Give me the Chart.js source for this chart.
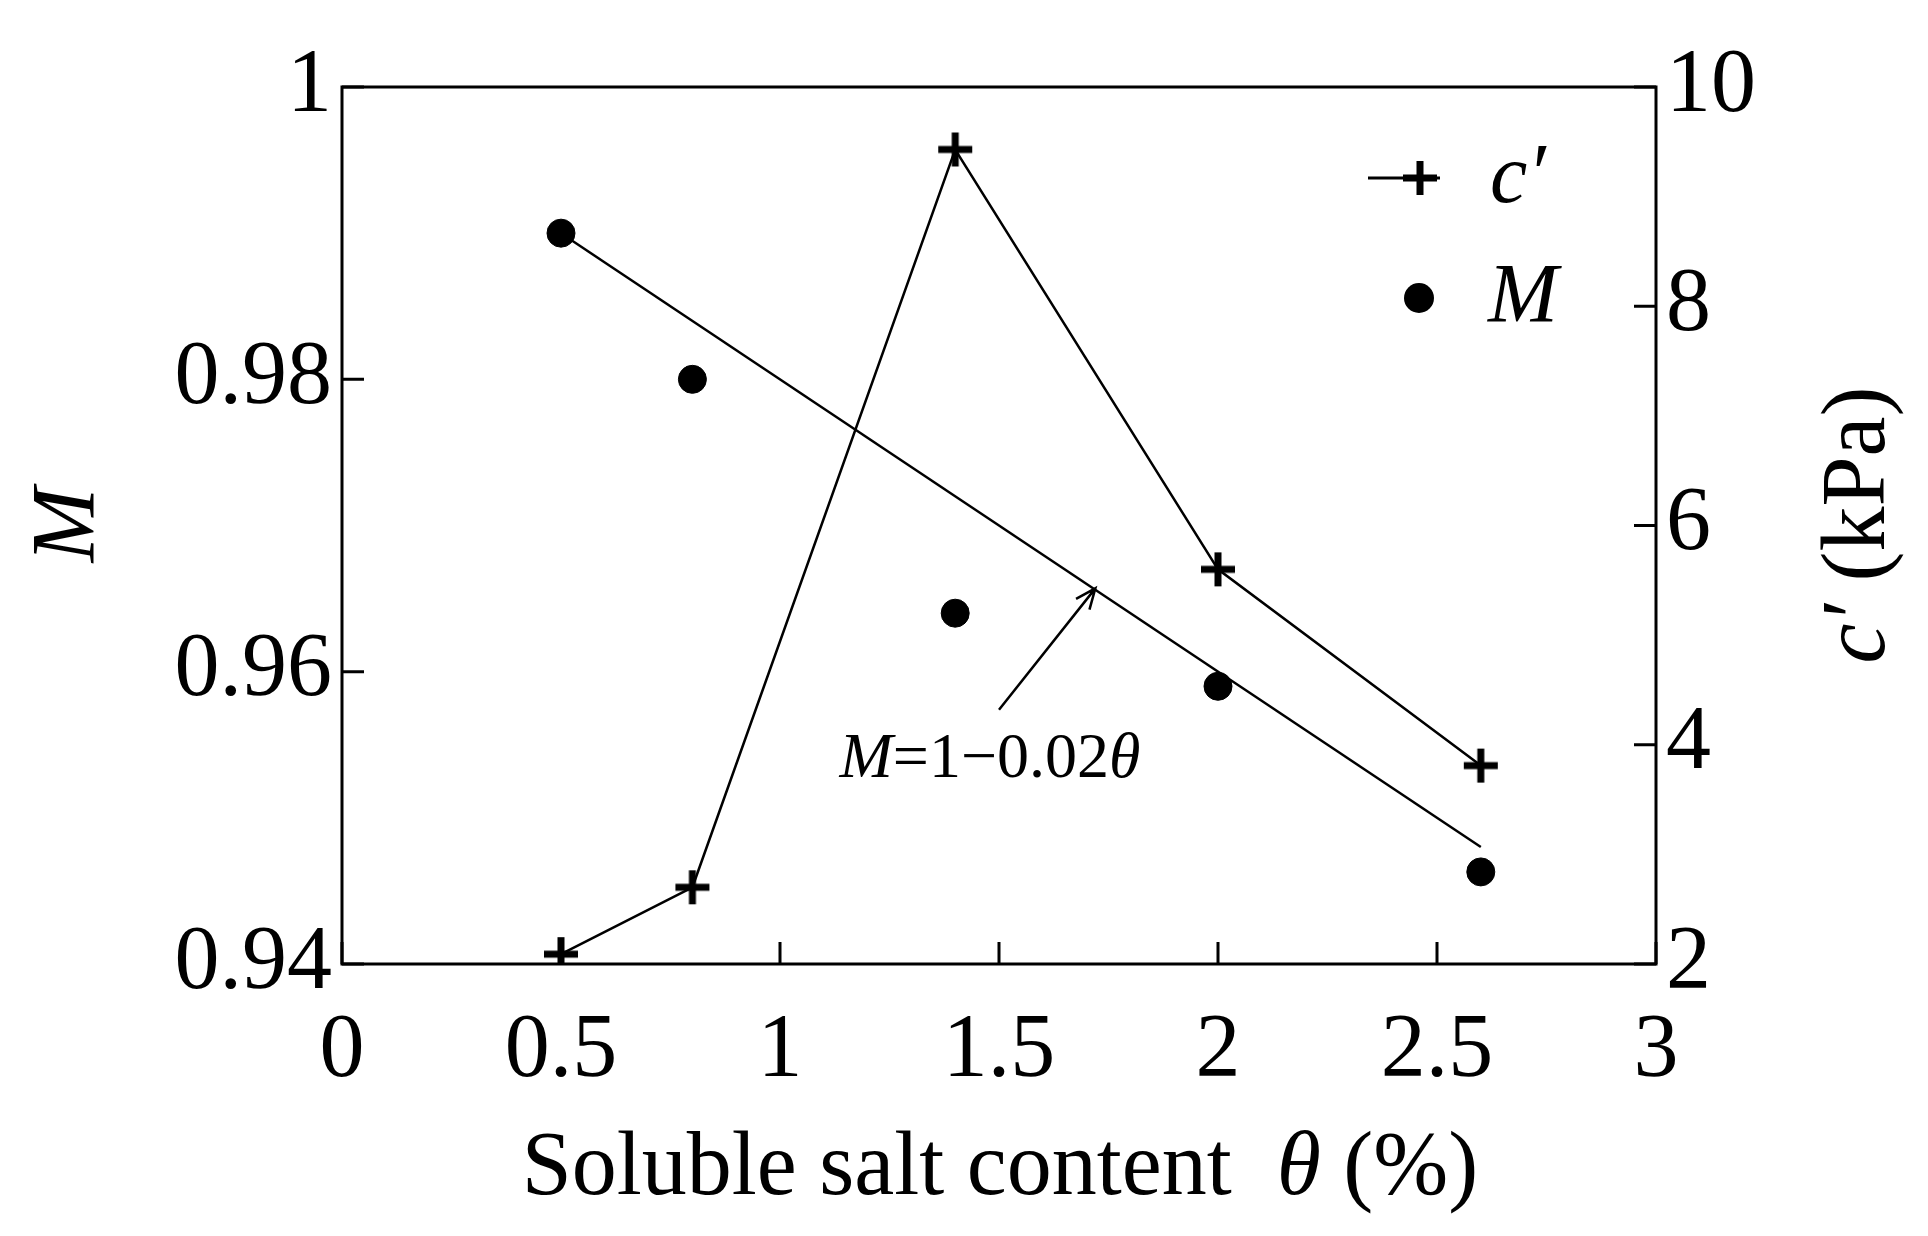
<!DOCTYPE html>
<html><head><meta charset="utf-8">
<script src="https://cdn.jsdelivr.net/npm/chart.js@4/dist/chart.umd.min.js"></script>
<style>body{margin:0;background:#fff}#wrap{width:1928px;height:1236px}</style>
</head><body><div id="wrap"><canvas id="c"></canvas></div>
<script>
var theta = [0.5, 0.8, 1.4, 2.0, 2.6];
var mValues = [0.990, 0.980, 0.964, 0.959, 0.9463];
var cValues = [2.09, 2.7, 9.43, 5.6, 3.81];
var fitX = [0.5, 2.6];
var fitM = [0.990, 0.948];
var xTicks = [0, 0.5, 1, 1.5, 2, 2.5, 3];
var mTicks = [0.94, 0.96, 0.98, 1];
var cTicks = [2, 4, 6, 8, 10];

var FONT = '"Liberation Serif", "Times New Roman", serif';

function crossPoint(ctx, x, y, r){
  ctx.save(); ctx.lineWidth = 7; ctx.strokeStyle = '#000';
  ctx.beginPath(); ctx.moveTo(x - r, y); ctx.lineTo(x + r, y);
  ctx.moveTo(x, y - r); ctx.lineTo(x, y + r); ctx.stroke(); ctx.restore();
}

// draw a run of [text, italic] pieces left to right, centred on x
function runText(ctx, parts, x, y, size){
  var w = 0;
  parts.forEach(function(p){ ctx.font = (p[1] ? 'italic ' : '') + size + 'px ' + FONT; w += ctx.measureText(p[0]).width; });
  var cx = x - w / 2;
  ctx.textAlign = 'left';
  parts.forEach(function(p){ ctx.font = (p[1] ? 'italic ' : '') + size + 'px ' + FONT; ctx.fillText(p[0], cx, y); cx += ctx.measureText(p[0]).width; });
}

var extras = {
  id: 'extras',
  afterDraw: function(chart){
    var ctx = chart.ctx, xs = chart.scales.x, ym = chart.scales.yM, yc = chart.scales.yC;
    var a = chart.chartArea;
    ctx.save();
    ctx.strokeStyle = '#000'; ctx.lineWidth = 3;
    ctx.strokeRect(a.left, a.top, a.right - a.left, a.bottom - a.top);
    ctx.beginPath();
    xTicks.forEach(function(v){ var p = xs.getPixelForValue(v); ctx.moveTo(p, a.bottom); ctx.lineTo(p, a.bottom - 22); });
    mTicks.forEach(function(v){ var p = ym.getPixelForValue(v); ctx.moveTo(a.left, p); ctx.lineTo(a.left + 22, p); });
    cTicks.forEach(function(v){ var p = yc.getPixelForValue(v); ctx.moveTo(a.right, p); ctx.lineTo(a.right - 22, p); });
    ctx.stroke();
    ctx.fillStyle = '#000'; ctx.textBaseline = 'middle';
    runText(ctx, [['Soluble salt content  ', false], ['θ', true], [' (%)', false]], 1000, 1170, 90);
    ctx.save(); ctx.translate(70, 525); ctx.rotate(-Math.PI / 2);
    runText(ctx, [['M', true]], 0, 0, 90); ctx.restore();
    ctx.save(); ctx.translate(1860, 525); ctx.rotate(-Math.PI / 2);
    runText(ctx, [['c′', true], [' (kPa)', false]], 0, 0, 90); ctx.restore();
    // annotation
    var ax0 = xs.getPixelForValue(1.5), ay0 = ym.getPixelForValue(0.9574);
    var ax1 = xs.getPixelForValue(1.72), ay1 = ym.getPixelForValue(0.9657);
    ctx.lineWidth = 2.5; ctx.beginPath(); ctx.moveTo(ax0, ay0); ctx.lineTo(ax1, ay1);
    var ang = Math.atan2(ay1 - ay0, ax1 - ax0);
    ctx.moveTo(ax1 - 22 * Math.cos(ang - 0.4), ay1 - 22 * Math.sin(ang - 0.4)); ctx.lineTo(ax1, ay1);
    ctx.lineTo(ax1 - 22 * Math.cos(ang + 0.4), ay1 - 22 * Math.sin(ang + 0.4)); ctx.stroke();
    runText(ctx, [['M', true], ['=1−0.02', false], ['θ', true]], 990, 760, 64);
    // legend
    ctx.lineWidth = 3; ctx.beginPath(); ctx.moveTo(1368, 178); ctx.lineTo(1440, 178); ctx.stroke();
    crossPoint(ctx, 1420, 178, 17);
    ctx.textAlign = 'left';
    ctx.font = 'italic 84px ' + FONT; ctx.fillText('c′', 1490, 180);
    ctx.beginPath(); ctx.arc(1419, 298, 15, 0, 2 * Math.PI); ctx.fill();
    ctx.fillText('M', 1488, 300);
    ctx.restore();
  }
};

var crossStyle = document.createElement('canvas');
crossStyle.width = 44; crossStyle.height = 44;
crossPoint(crossStyle.getContext('2d'), 22, 22, 17);

new Chart(document.getElementById('c'), {
  type: 'scatter',
  data: {
    datasets: [
      { label: 'fit', data: fitX.map(function(x, i){ return {x: x, y: fitM[i]}; }), yAxisID: 'yM',
        showLine: true, borderColor: '#000', borderWidth: 2.5, pointRadius: 0 },
      { label: 'M', data: theta.map(function(x, i){ return {x: x, y: mValues[i]}; }), yAxisID: 'yM',
        pointRadius: 14, pointBackgroundColor: '#000', pointBorderColor: '#000' },
      { label: "c'", data: theta.map(function(x, i){ return {x: x, y: cValues[i]}; }), yAxisID: 'yC',
        showLine: true, borderColor: '#000', borderWidth: 2.5, pointStyle: crossStyle }
    ]
  },
  options: {
    responsive: true, maintainAspectRatio: false, animation: false,
    layout: { padding: { top: 87, left: 0, right: 0, bottom: 0 } },
    plugins: { legend: { display: false }, tooltip: { enabled: false } },
    scales: {
      x: { type: 'linear', min: 0, max: 3, afterFit: function(s){ s.height = 272; },
        afterBuildTicks: function(s){ s.ticks = xTicks.map(function(v){ return {value: v}; }); },
        grid: { display: false, drawTicks: false }, border: { display: false },
        ticks: { color: '#000', padding: 34, font: { family: FONT, size: 90 }, callback: function(v){ return String(v); } } },
      yM: { position: 'left', min: 0.94, max: 1, afterFit: function(s){ s.width = 342; },
        afterBuildTicks: function(s){ s.ticks = mTicks.map(function(v){ return {value: v}; }); },
        grid: { display: false, drawTicks: false }, border: { display: false },
        ticks: { color: '#000', padding: 10, font: { family: FONT, size: 90 }, callback: function(v){ return String(v); } } },
      yC: { position: 'right', min: 2, max: 10, afterFit: function(s){ s.width = 272; },
        afterBuildTicks: function(s){ s.ticks = cTicks.map(function(v){ return {value: v}; }); },
        grid: { display: false, drawTicks: false }, border: { display: false },
        ticks: { color: '#000', padding: 10, font: { family: FONT, size: 90 } } }
    }
  },
  plugins: [extras]
});
</script></body></html>
